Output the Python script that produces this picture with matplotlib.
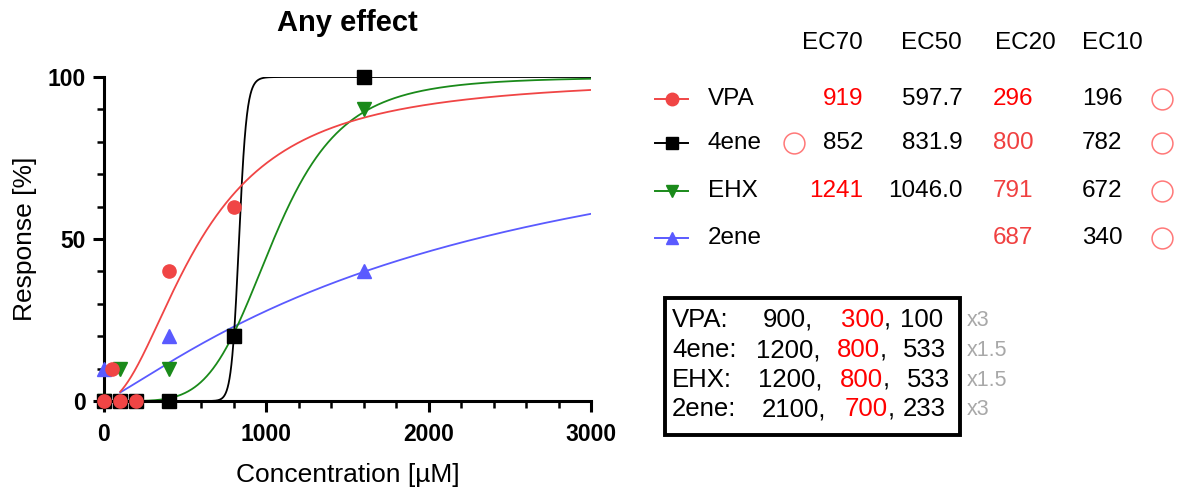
import numpy as np
import matplotlib
matplotlib.use("Agg")
import matplotlib.pyplot as plt
from matplotlib.lines import Line2D
from matplotlib.patches import Rectangle

plt.rcParams["font.family"] = ["Liberation Sans", "DejaVu Sans"]

W, H = 1186, 490

# ---- data -------------------------------------------------------------------
compounds = ["VPA", "4ene", "EHX", "2ene"]
colors = ["#f04545", "#000000", "#1a8a1a", "#5a5aff"]
markers = ["o", "s", "v", "^"]

vpa_x = [0, 50, 100, 200, 400, 800]
vpa_y = [0, 10, 0, 0, 40, 60]
fourene_x = [0, 100, 200, 400, 800, 1600]
fourene_y = [0, 0, 0, 0, 20, 100]
ehx_x = [0, 100, 400, 800, 1600]
ehx_y = [0, 10, 10, 20, 90]
twoene_x = [0, 400, 1600]
twoene_y = [10, 20, 40]

# fitted Hill curves: EC50 and slope
ec50 = [597.7, 831.9, 1046.0, 2286.0]
hill = [1.97, 35.5, 4.96, 1.153]

# EC table
ec_headers = ["EC70", "EC50", "EC20", "EC10"]
ec70 = ["919", "852", "1241", ""]
ec50_txt = ["597.7", "831.9", "1046.0", ""]
ec20 = ["296", "800", "791", "687"]
ec10 = ["196", "782", "672", "340"]

# dosing box
dose_names = ["VPA:", "4ene:", "EHX:", "2ene:"]
dose_hi = ["900,", "1200,", "1200,", "2100,"]
dose_mid = ["300", "800", "800", "700"]
dose_lo = ["100", "533", "533", "233"]
dose_factor = ["x3", "x1.5", "x1.5", "x3"]

series_x = [vpa_x, fourene_x, ehx_x, twoene_x]
series_y = [vpa_y, fourene_y, ehx_y, twoene_y]


def hill_curve(x, e50, h):
    return 100.0 / (1.0 + (e50 / x) ** h)


def px(x, y):
    """pixel position (from top-left) -> figure fraction"""
    return x / W, 1 - y / H


fig = plt.figure(figsize=(W / 100, H / 100), dpi=100)
ax = fig.add_axes([104 / W, 1 - 401 / H, (591 - 104) / W, (401 - 77) / H])

xs = np.linspace(100, 3000, 2000)
for i in range(3, -1, -1):
    ax.plot(xs, hill_curve(xs, ec50[i], hill[i]), color=colors[i], lw=1.3,
            zorder=2)
for i in range(3, -1, -1):
    ax.plot(series_x[i], series_y[i], linestyle="none", marker=markers[i],
            ms=9.5, color=colors[i], mec=colors[i], clip_on=False,
            zorder=3 + (3 - i))

ax.set_xlim(0, 3000)
ax.set_ylim(0, 100)
ax.set_xticks([0, 1000, 2000, 3000])
ax.set_xticks(np.arange(0, 3001, 200), minor=True)
ax.set_yticks([0, 50, 100])
ax.set_yticks(np.arange(0, 101, 10), minor=True)
for s in ["top", "right"]:
    ax.spines[s].set_visible(False)
for s in ["left", "bottom"]:
    ax.spines[s].set_linewidth(2.2)
ax.tick_params(which="major", length=8, width=2.2, labelsize=16.5)
ax.tick_params(axis="x", which="major", pad=8)
ax.tick_params(axis="y", which="major", pad=5)
ax.tick_params(which="minor", length=5, width=1.8)
for lab in ax.get_xticklabels() + ax.get_yticklabels():
    lab.set_fontweight("bold")

ax.set_title("Any effect", fontsize=21, fontweight="bold", pad=33)
ax.set_xlabel("Concentration [µM]", fontsize=19, labelpad=12)
ax.set_ylabel("Response [%]", fontsize=19, labelpad=8)

# ---- EC table ---------------------------------------------------------------
row_y = [99, 143, 191, 238]
fs = 17.5
red = "#ff0000"
soft_red = "#f04040"
ring = "#ff7878"

for x, t in zip([832, 931, 1025, 1112], ec_headers):
    fig.text(*px(x, 43), t, ha="center", va="center", fontsize=fs)

for i, y in enumerate(row_y):
    fig.add_artist(Line2D([655 / W, 688 / W], [1 - y / H] * 2,
                          color=colors[i], lw=1.4))
    fig.add_artist(Line2D([672 / W], [1 - y / H], marker=markers[i],
                          ms=9, color=colors[i], lw=0))
    fig.text(*px(708, y), compounds[i], ha="left", va="center", fontsize=fs)
    fig.text(*px(863, y), ec70[i], ha="right", va="center", fontsize=fs,
             color=red if ec70[i] in ("919", "1241") else "black")
    fig.text(*px(963, y), ec50_txt[i], ha="right", va="center", fontsize=fs)
    fig.text(*px(993, y), ec20[i], ha="left", va="center", fontsize=fs,
             color=red if i == 0 else soft_red)
    fig.text(*px(1082, y), ec10[i], ha="left", va="center", fontsize=fs)
    fig.add_artist(Line2D([1162 / W], [1 - y / H], marker="o", ms=15,
                          mfc="none", mec=ring, mew=1.1, lw=0))
fig.add_artist(Line2D([794 / W], [1 - row_y[1] / H], marker="o", ms=15,
                      mfc="none", mec=ring, mew=1.1, lw=0))

# ---- dosing box -------------------------------------------------------------
fig.add_artist(Rectangle(px(665, 435), (960 - 665) / W, (435 - 298) / H,
                         transform=fig.transFigure, fill=False, lw=2.8,
                         edgecolor="black"))
box_y = [320, 350, 380, 409]
hi_x = [763, 756, 758, 762]
mid_x = [841, 837, 840, 845]
lo_x = [900, 903, 907, 903]
bfs = 18.5
for i, y in enumerate(box_y):
    fig.text(*px(672, y), dose_names[i], ha="left", va="center", fontsize=bfs)
    fig.text(*px(hi_x[i], y), dose_hi[i], ha="left", va="center", fontsize=bfs)
    t = fig.text(*px(mid_x[i], y), dose_mid[i], ha="left", va="center",
                 fontsize=bfs, color=red)
    ax.annotate(",", xy=(1, 0.5), xycoords=t, ha="left", va="center",
                fontsize=bfs)
    fig.text(*px(lo_x[i], y), dose_lo[i], ha="left", va="center", fontsize=bfs)
    fig.text(*px(967, y), dose_factor[i], ha="left", va="center",
             fontsize=15.5, color="#a8a8a8")

fig.savefig("out.png", dpi=100)
